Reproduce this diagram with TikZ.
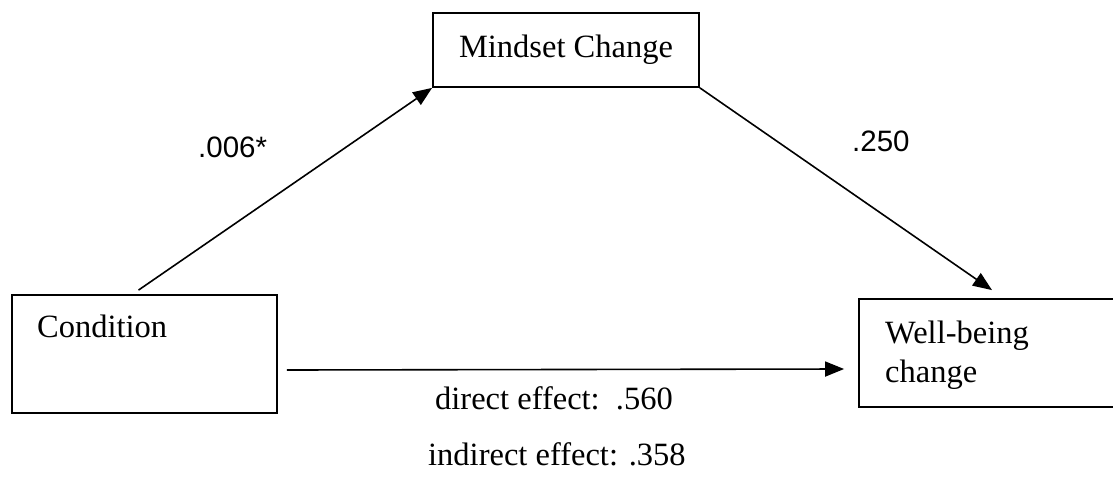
\documentclass[tikz,border=0pt]{standalone}
\usepackage{fontspec}
\setmainfont{Liberation Serif}
\newfontfamily\numfont{Liberation Sans}
\usepackage{tikz}
\usetikzlibrary{arrows.meta}

\tikzset{
  box/.style={draw,line width=1.8pt,rectangle,inner sep=0pt},
  arr/.style={line width=1.6pt,-{Triangle[length=19pt,width=15pt]}},
  txt/.style={inner sep=0pt,anchor=base west,font=\fontsize{32.5}{39}\selectfont},
  num/.style={inner sep=0pt,anchor=base west,font=\numfont\fontsize{29.5}{35}\selectfont}
}

\begin{document}
\begin{tikzpicture}[x=1pt,y=-1pt]
    \useasboundingbox (0,0) rectangle (1113,482);
    \clip (0,0) rectangle (1113,482);

    % boxes
    \node[box,minimum width=265pt,minimum height=118pt] (cond) at (144.5,354) {};
    \node[box,minimum width=266pt,minimum height=74pt,font=\fontsize{32.5}{39}\selectfont] (mind) at (566,50) {Mindset Change};
    \node[box,minimum width=266pt,minimum height=108pt] (well) at (992,353) {};

    \node[txt] (condtxt) at (37,337) {Condition};
    \node[txt,align=left] (welltxt) at (885,382) {Well-being\\change};

    % paths
    \draw[arr] ([shift={(-6pt,4pt)}]cond.north) -- (mind.south west);
    \draw[arr] (mind.south east) -- ([yshift=8pt]well.north);
    \draw[arr] ([shift={(9pt,-16pt)}]cond.east) -- ([shift={(-14pt,-16pt)}]well.west);

    % values
    \node[num] (a) at (198,157) {.006*};
    \node[num] (b) at (852,151) {.250};
    \node[txt] (direct) at (435,409) {direct effect:\ \ .560};
    \node[txt] (indirect) at (428,465) {indirect effect: .358};
\end{tikzpicture}
\end{document}
